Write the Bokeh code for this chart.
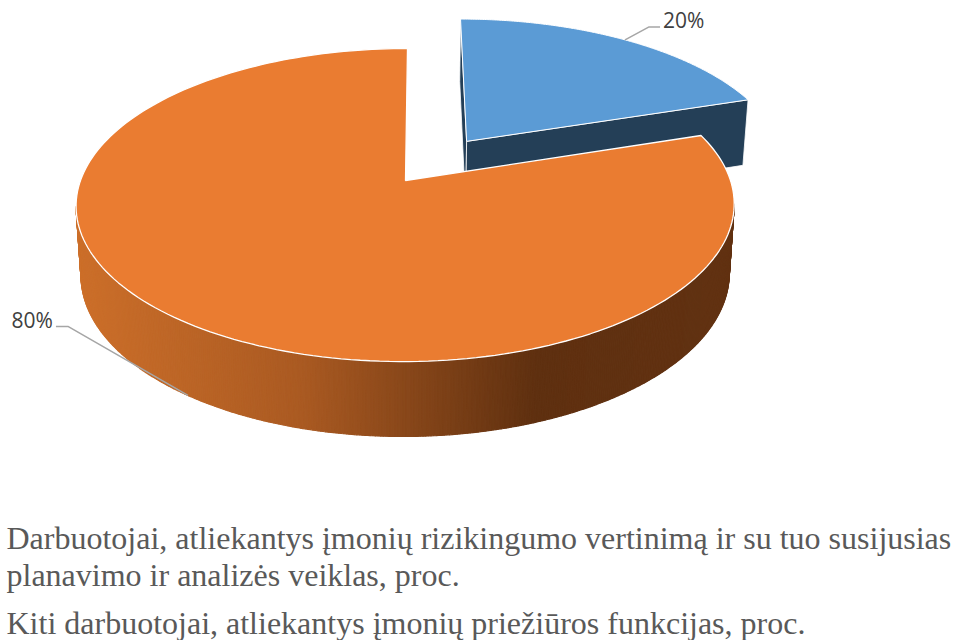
import numpy as np
from bokeh.plotting import figure
from bokeh.models import Range1d
from bokeh.core.properties import value
from bokeh.embed import file_html
from bokeh.resources import INLINE

# ---- data ----
categories = ["Darbuotojai, atliekantys įmonių rizikingumo vertinimą ir su tuo susijusias\nplanavimo ir analizės veiklas, proc.",
              "Kiti darbuotojai, atliekantys įmonių priežiūros funkcijas, proc."]
values = [20, 80]
explode = [0.33, 0.0]
labels = ["20%", "80%"]

# ---- style ----
TOP = ["#5B9BD5", "#EA7C31"]
SIDE = "#243F57"
GRAD_X = [76, 300, 535, 735]
GRAD_C = [(204, 111, 42), (170, 90, 34), (95, 48, 16), (98, 50, 18)]
TEXT = "#595959"
LABEL = "#404040"
LEAD = "#A6A6A6"

# projection constants (screen px of a tilted disc)
CX, CY, A, C, B, K = 405.0, 180.0, 325.0, 2.3, 152.7, 0.1566
S_BOT, Y_BOT, B_BOT = 0.985, 248.4, 158.2


def project(u, v, bottom=False):
    u, v = np.asarray(u, float), np.asarray(v, float)
    w = 1 + K * v
    x = (A * u + C * v) / w
    if bottom:
        return CX + S_BOT * x, Y_BOT - B_BOT * v / w
    return CX + x, CY - B * v / w


def wedge(start, end, off, bottom=False):
    mid = np.radians((start + end) / 2 * 3.6)
    ou, ov = off * np.sin(mid), off * np.cos(mid)
    t = np.radians(np.linspace(start, end, 200) * 3.6)
    u = np.r_[ou, ou + np.sin(t)]
    v = np.r_[ov, ov + np.cos(t)]
    return project(u, v, bottom), (ou, ov)


def grad(x):
    return "#%02x%02x%02x" % tuple(int(round(np.interp(x, GRAD_X, [c[i] for c in GRAD_C]))) for i in range(3))


p = figure(width=960, height=640, output_backend="svg", toolbar_location=None,
           x_range=Range1d(0, 960), y_range=Range1d(640, 0),
           min_border=0, min_border_left=0, min_border_right=0, min_border_top=0, min_border_bottom=0,
           outline_line_color=None, background_fill_color="white", border_fill_color="white")
p.axis.visible = False
p.grid.visible = False

edges = np.cumsum([0] + values)
# slice 0: exploded blue wedge with its two radial walls
s0, e0 = edges[0], edges[1]
(xt, yt), (ou, ov) = wedge(s0, e0, explode[0])
(xb, yb), _ = wedge(s0, e0, explode[0], True)
for i in (1, -1):
    p.patch([xt[0], xt[i], xb[i], xb[0]], [yt[0], yt[i], yb[i], yb[0]],
            fill_color=SIDE, line_color="white", line_width=0.8)
p.patch(xt, yt, fill_color=TOP[0], line_color="white", line_width=1)

# slice 1: outer wall as colour strips, only its front-facing part
s1, e1 = edges[1], edges[2]
t = np.radians(np.linspace(s1, e1, 720) * 3.6)
ux, vx = np.sin(t), np.cos(t)
xT, yT = project(ux, vx)
xB, yB = project(ux, vx, True)
i_right, i_left = int(np.argmax(xT)), int(np.argmin(xT))
xs, ys, cs = [], [], []
for i in range(i_right, i_left):
    xs.append([xT[i], xT[i + 1], xB[i + 1], xB[i]])
    ys.append([yT[i], yT[i + 1], yB[i + 1], yB[i]])
    cs.append(grad((xT[i] + xT[i + 1]) / 2))
p.patches(xs, ys, fill_color=cs, line_color=cs, line_width=1.2)
(xo, yo), _ = wedge(s1, e1, explode[1])
p.patch(xo, yo, fill_color=TOP[1], line_color="white", line_width=1.3)

# leader lines
mid0 = np.radians((s0 + e0) / 2 * 3.6)
lx0, ly0 = project(ou + np.sin(mid0), ov + np.cos(mid0))
p.line([lx0, lx0 + 24, lx0 + 35], [ly0, ly0 - 13, ly0 - 13], line_color=LEAD, line_width=1.5)
mid1 = np.radians((s1 + e1) / 2 * 3.6)
lx1, ly1 = project(np.sin(mid1), np.cos(mid1), True)
p.line([lx1, lx1 - 120, lx1 - 132], [ly1, ly1 - 69, ly1 - 69], line_color=LEAD, line_width=1.5)

# labels
p.text([lx0 + 38], [ly0 - 20], text=[labels[0]], text_font=value("Open Sans"), text_font_size="21px",
       text_color=LABEL, text_baseline="middle", text_align="left")
p.text([lx1 - 135], [ly1 - 75], text=[labels[1]], text_font=value("Open Sans"), text_font_size="21px",
       text_color=LABEL, text_baseline="middle", text_align="right")

# legend lines
lines = categories[0].split("\n") + [categories[1]]
p.text([6, 6, 6], [537, 574, 622], text=lines, text_font=value("Liberation Serif"), text_font_size="32px",
       text_color=TEXT, text_baseline="alphabetic", text_align="left")

open("out.html", "w").write(file_html(p, INLINE))
